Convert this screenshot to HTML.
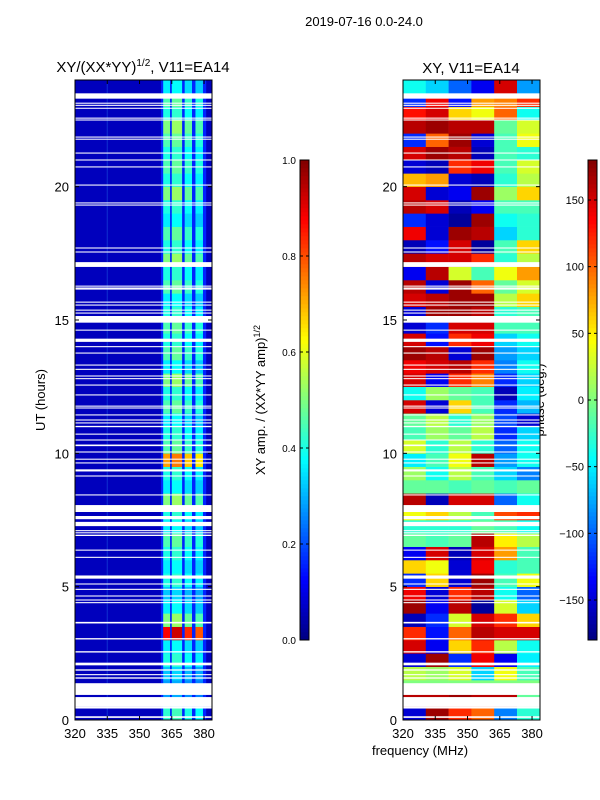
<!DOCTYPE html>
<html><head><meta charset="utf-8">
<style>body{margin:0;background:#fff}svg{display:block}text{font-family:"Liberation Sans",sans-serif;fill:#000}</style>
</head><body>
<svg id="fig" width="600" height="800" viewBox="0 0 600 800" xmlns="http://www.w3.org/2000/svg">
<text x="364" y="26" font-size="13" text-anchor="middle">2019-07-16 0.0-24.0</text>
<text x="143" y="72" font-size="15" text-anchor="middle">XY/(XX*YY)<tspan font-size="10" dy="-6">1/2</tspan><tspan dy="6">, V11=EA14</tspan></text>
<text x="471" y="73" font-size="15" text-anchor="middle">XY, V11=EA14</text>
<text transform="translate(45,400) rotate(-90)" font-size="13" text-anchor="middle">UT (hours)</text>
<text x="420" y="755" font-size="13" text-anchor="middle">frequency (MHz)</text>
<text transform="translate(265,400) rotate(-90)" font-size="13" text-anchor="middle">XY amp. / (XX*YY amp)<tspan font-size="9" dy="-5">1/2</tspan></text>
<text transform="translate(544,400) rotate(-90)" font-size="13" text-anchor="middle">phase (deg.)</text>
<g id="gl"></g><g id="gr"></g><g id="gc"></g>
</svg>
<script>
const NS="http://www.w3.org/2000/svg";
const rowStep=0.5;
const stripeAmp=[0.42,0.28,0.28,0.32,0.4,0.36,0.88,0.5,0.36,0.32,0.4,0.36,0.4,0.45,0.36,0.4,0.5,0.36,0.4,0.72,0.45,0.4,0.36,0.45,0.4,0.5,0.36,0.45,0.4,0.45,0.4,0.36,0.45,0.4,0.5,0.4,0.45,0.36,0.4,0.5,0.4,0.45,0.4,0.45,0.5,0.4,0.45,0.36];
const stripeScale=[1.0,1.05,0.95,0.9];
const stripeStart=[361,365,371,376];
const stripeEnd=[364.2,369.8,374.4,379.5];
const bgAmp=0.06;
const bandBgAmp=0.16;
const phaseFreqs=[320,330.6,341.2,351.8,362.4,373];
const phase=[
[-150,170,120,100,-90,-30],[160,160,170,160,160,-10],[0,0,0,0,0,0],[20,10,30,-60,40,-20],
[-150,170,-120,140,-140,-50],[150,-140,60,120,20,-40],[120,-130,100,160,150,150],[-160,-120,30,150,120,60],
[170,-140,160,-170,30,-60],[140,-150,120,160,-40,-100],[-120,60,-150,170,-20,40],[60,40,-150,140,-30,-20],
[-140,150,-160,150,80,-20],[-10,-20,-10,160,50,20],[-30,-30,-30,-10,-20,-40],[40,60,20,-20,110,120],
[160,-160,150,150,-100,-40],[-10,-10,-20,-10,-20,-10],[10,-40,20,-20,-60,-90],[-50,-20,40,160,-80,-40],
[30,-30,20,-30,-100,-40],[-20,10,-10,20,-120,-60],[-10,20,-30,10,-110,-150],[150,-150,60,-20,-120,-70],
[-40,10,-10,-20,-160,-50],[150,-140,120,90,-120,-60],[140,150,160,120,-90,-40],[170,160,-150,170,-80,-60],
[150,-130,120,140,-60,-40],[-150,-120,150,150,-20,-20],[-150,170,170,160,-30,-20],[150,160,170,170,20,60],
[160,-150,170,100,-10,30],[-140,160,30,-20,40,80],[160,150,150,120,-30,20],[-160,-130,150,-170,-20,60],
[140,-150,170,160,-60,-30],[-120,-150,-170,170,-40,-30],[160,150,-160,-140,-20,-20],[150,-150,-140,170,10,60],
[70,80,-150,-160,-30,20],[-150,-160,120,140,-20,30],[150,170,160,-160,-20,-30],[-120,100,170,-150,-20,40],
[160,170,160,160,-10,30],[130,150,60,40,100,-40],[-120,140,-130,80,90,120],[-40,-60,-100,-140,150,-80]];
const gaps=[[0.08,0.14],[0.43,0.49],[0.49,0.86],[0.94,1.38],[1.55,1.6],[1.68,1.72],[1.85,1.9],[2.05,2.15],[2.53,2.58],[3.02,3.07],[3.62,3.68],
[4.38,4.42],[4.48,4.52],[4.63,4.67],[4.88,4.92],[5.08,5.12],[5.3,5.42],[6.08,6.12],[6.35,6.39],[6.9,6.95],[7.0,7.04],[7.08,7.12],[7.27,7.43],[7.53,7.65],[7.8,8.06],
[8.42,8.46],[9.13,9.17],[9.32,9.4],[9.62,9.66],[9.76,9.8],[10.03,10.07],[10.27,10.33],[10.48,10.52],[10.7,10.74],[10.98,11.03],[11.12,11.16],[11.23,11.27],[11.42,11.46],[11.68,11.72],[11.75,11.79],
[12.17,12.21],[12.54,12.58],[12.78,12.82],[12.88,12.92],[13.13,13.17],[13.29,13.33],[13.74,13.78],[13.98,14.02],[14.18,14.3],[14.6,14.64],[14.9,15.15],[15.24,15.28],[15.35,15.39],[15.54,15.58],[15.65,15.69],
[16.14,16.18],[16.18,16.22],[16.25,16.29],[16.99,17.17],[17.53,17.57],[17.68,17.72],[19.29,19.33],[19.37,19.41],[20.04,20.08],[20.72,20.76],[20.98,21.02],[21.24,21.28],[21.76,21.8],[21.84,21.88],
[22.48,22.52],[22.55,22.59],[22.92,22.96],[23.03,23.07],[23.11,23.15],[23.3,23.5]];
const ampTicks=[0,0.2,0.4,0.6,0.8,1.0];
const phaseTicks=[-150,-100,-50,0,50,100,150];
const yTicks=[0,5,10,15,20];
const xTicks=[320,335,350,365,380];

function jet(v){v=Math.max(0,Math.min(1,v));
 const r=Math.max(0,Math.min(1,Math.min(4*v-1.5,-4*v+4.5)));
 const g=Math.max(0,Math.min(1,Math.min(4*v-0.5,-4*v+3.5)));
 const b=Math.max(0,Math.min(1,Math.min(4*v+0.5,-4*v+2.5)));
 return `rgb(${Math.round(r*255)},${Math.round(g*255)},${Math.round(b*255)})`;}
const F0=320,F1=383.7;
function panel(x0){return {xs:f=>x0+(f-F0)/(F1-F0)*137, ys:t=>720-t*640/24, x0:x0};}
const L=panel(75),R=panel(403);
function rect(g,x,y,w,h,fill,name){const r=document.createElementNS(NS,'rect');
 r.setAttribute('x',x);r.setAttribute('y',y);r.setAttribute('width',w);r.setAttribute('height',h);r.setAttribute('fill',fill);
 
 
 g.appendChild(r);return r;}
function txt(g,x,y,s,anchor,size,name){const t=document.createElementNS(NS,'text');
 t.setAttribute('x',x);t.setAttribute('y',y);t.setAttribute('text-anchor',anchor);t.setAttribute('font-size',size);t.textContent=s;
 
 
 g.appendChild(t);}
function line(g,x1,y1,x2,y2,name,col){const l=document.createElementNS(NS,'line');
 l.setAttribute('x1',x1);l.setAttribute('y1',y1);l.setAttribute('x2',x2);l.setAttribute('y2',y2);l.setAttribute('stroke',col||'#000');
 
 
 g.appendChild(l);}
const gl=document.getElementById('gl'),gr=document.getElementById('gr'),gc=document.getElementById('gc');
// left heatmap
rect(gl,L.xs(F0),80,137,640,jet(bgAmp),'amp-background');
rect(gl,L.xs(360),80,L.xs(381)-L.xs(360),640,jet(bandBgAmp),'amp-band-background');
stripeAmp.forEach((a,i)=>{
 const y=L.ys((i+1)*rowStep),h=L.ys(i*rowStep)-y;
 stripeStart.forEach((s,k)=>{
  rect(gl,L.xs(s),y,L.xs(stripeEnd[k])-L.xs(s),h+0.3,jet(a*stripeScale[k]),'amp-cell');
 });
});
line(gl,L.xs(335),80,L.xs(335),720,'rfi-line','#1030d0');
// right heatmap
phase.forEach((row,i)=>{
 const y=R.ys((i+1)*rowStep),h=R.ys(i*rowStep)-y;
 row.forEach((p,k)=>{
  const f1=k+1<phaseFreqs.length?phaseFreqs[k+1]:F1;
  rect(gr,R.xs(phaseFreqs[k]),y,R.xs(f1)-R.xs(phaseFreqs[k])+0.3,h+0.3,jet((p+180)/360),'phase-cell');
 });
});
// gaps
gaps.forEach(g=>{[L,R].forEach(P=>{const y=P.ys(g[1]);rect(P===L?gl:gr,P.x0,y,137,P.ys(g[0])-y,'#fff','flagged-gap');});});
// axes
[L,R].forEach((P,pi)=>{
 const g=pi?gr:gl;const nm=pi?'phase':'amp';
 const fr=rect(g,P.x0,80,137,640,'none',nm+'-plot-frame');fr.setAttribute('stroke','#000');
 yTicks.forEach(t=>{const y=P.ys(t);line(g,P.x0,y,P.x0+4,y,'y-tick');line(g,P.x0+137,y,P.x0+133,y,'y-tick');
  txt(g,P.x0-6,y+5,String(t),'end',13,'y-tick-label');});
 xTicks.forEach(f=>{const x=P.xs(f);line(g,x,720,x,716,'x-tick');line(g,x,80,x,84,'x-tick');
  txt(g,x,738,String(f),'middle',13,'x-tick-label');});
});
// colorbars
function cbar(x,vmin,vmax,ticks,fmt,nm){
 for(let i=0;i<120;i++){const v=i/120;rect(gc,x,640-(i+1)*4,9,4.3,jet(v+1/240),nm+'-colorbar-segment');}
 const fr=rect(gc,x,160,9,480,'none',nm+'-colorbar');fr.setAttribute('stroke','#000');
 ticks.forEach(t=>{const y=640-(t-vmin)/(vmax-vmin)*480;line(gc,x,y,x+3,y,'colorbar-tick');line(gc,x+9,y,x+6,y,'colorbar-tick');
  txt(gc,x-4,y+4,fmt(t),'end',nm==='amp'?10:11,'colorbar-tick-label');});
}
cbar(300,0,1,ampTicks,t=>t.toFixed(1),'amp');
cbar(588,-180,180,phaseTicks,t=>t<0?'\u2212'+(-t):String(t),'phase');
</script>
</body></html>
